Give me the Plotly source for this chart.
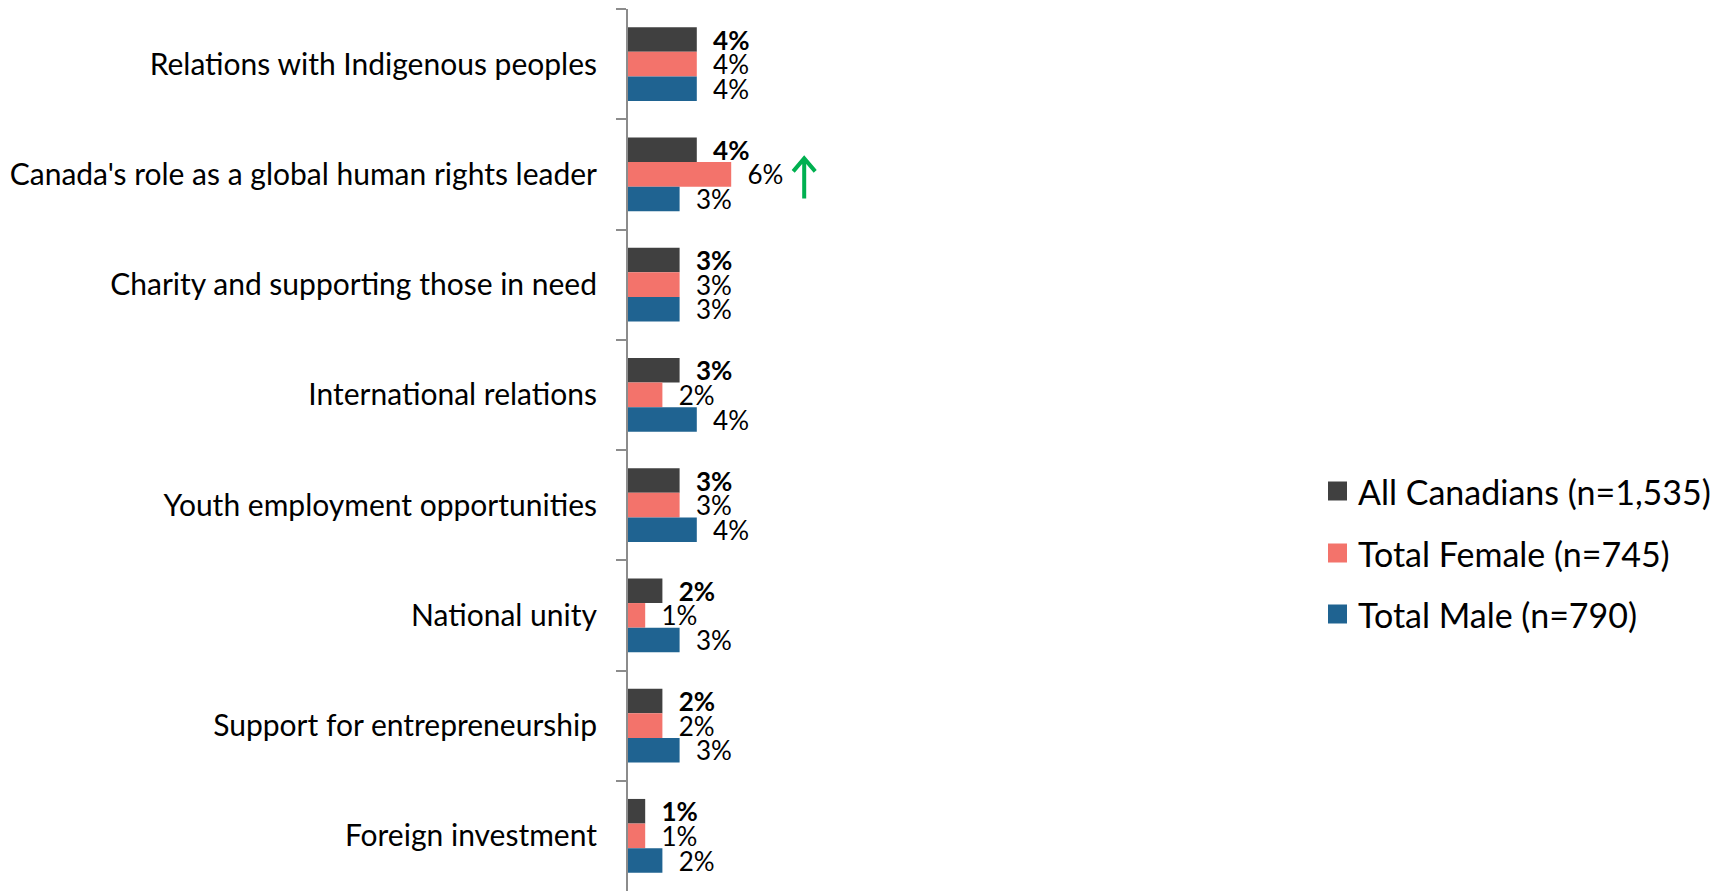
import plotly.graph_objects as go

# Survey topics (top to bottom) and share of respondents per group, in percent
categories = [
    "Relations with Indigenous peoples",
    "Canada's role as a global human rights leader",
    "Charity and supporting those in need",
    "International relations",
    "Youth employment opportunities",
    "National unity",
    "Support for entrepreneurship",
    "Foreign investment",
]
all_canadians = [4, 4, 3, 3, 3, 2, 2, 1]
total_female = [4, 6, 3, 2, 3, 1, 2, 1]
total_male = [4, 3, 3, 4, 4, 3, 3, 2]

series_names = [
    "All Canadians (n=1,535)",
    "Total Female (n=745)",
    "Total Male (n=790)",
]
series_values = [all_canadians, total_female, total_male]
series_colors = ["#404040", "#F3736B", "#1F6391"]
label_templates = ["\u00a0\u00a0<b>%{x}%</b>", "\u00a0\u00a0%{x}%", "\u00a0\u00a0%{x}%"]

# Significant increase marker: (series index, category)
flagged = (1, "Canada's role as a global human rights leader")

W, H = 1728, 891
ML, MR, MT, MB = 628, 0, 9, 0
FONT = "Lato"
px_per_pct = 17.2
x_max = (W - ML - MR) / px_per_pct

fig = go.Figure()
for name, vals, color, tmpl in zip(series_names, series_values, series_colors, label_templates):
    fig.add_trace(go.Bar(
        y=categories,
        x=vals,
        name=name,
        orientation="h",
        marker=dict(color=color, line=dict(width=0)),
        texttemplate=tmpl,
        textposition="outside",
        textfont=dict(family=FONT, size=26, color="#000000"),
        constraintext="none",
        cliponaxis=False,
        showlegend=False,
    ))

# Green arrow beside the flagged value
s_idx, s_cat = flagged
fig.add_shape(
    type="path",
    xref="x", yref="y",
    xsizemode="pixel", ysizemode="pixel",
    xanchor=series_values[s_idx][categories.index(s_cat)],
    yanchor=s_cat,
    path="M 73,-24 L 73,15 M 62,3 L 73,16 L 84,3",
    line=dict(color="#00B050", width=4),
)

# Legend: colour swatch + series name
def px_to_paper_x(px):
    return (px - ML) / (W - ML - MR)

def px_to_paper_y(py):
    return (H - MB - py) / (H - MT - MB)

legend_rows = [491, 553, 614]
for name, color, cy in zip(series_names, series_colors, legend_rows):
    fig.add_shape(
        type="rect", xref="paper", yref="paper",
        x0=px_to_paper_x(1328), x1=px_to_paper_x(1347),
        y0=px_to_paper_y(cy + 9.5), y1=px_to_paper_y(cy - 9.5),
        fillcolor=color, line=dict(width=0),
    )
    fig.add_annotation(
        xref="paper", yref="paper",
        x=px_to_paper_x(1356), y=px_to_paper_y(cy),
        xanchor="left", yanchor="middle",
        text=name, showarrow=False,
        font=dict(family=FONT, size=34, color="#000000"),
    )

fig.update_layout(
    width=W, height=H,
    margin=dict(l=ML, r=MR, t=MT, b=MB, pad=0),
    barmode="group",
    bargap=0.33,
    bargroupgap=0,
    plot_bgcolor="#FFFFFF",
    paper_bgcolor="#FFFFFF",
    font=dict(family=FONT, color="#000000"),
    xaxis=dict(
        range=[0, x_max], visible=False, showgrid=False, zeroline=False,
    ),
    yaxis=dict(
        type="category",
        categoryorder="array", categoryarray=categories,
        range=[len(categories) - 0.5, -0.5],
        showline=True, linecolor="#8C8C8C", linewidth=2,
        ticks="outside", tickson="boundaries", ticklen=10,
        tickcolor="#8C8C8C", tickwidth=2,
        ticklabelstandoff=23,
        showgrid=False, zeroline=False,
        tickfont=dict(family=FONT, size=30, color="#000000"),
    ),
)

fig.write_html("out.html")
